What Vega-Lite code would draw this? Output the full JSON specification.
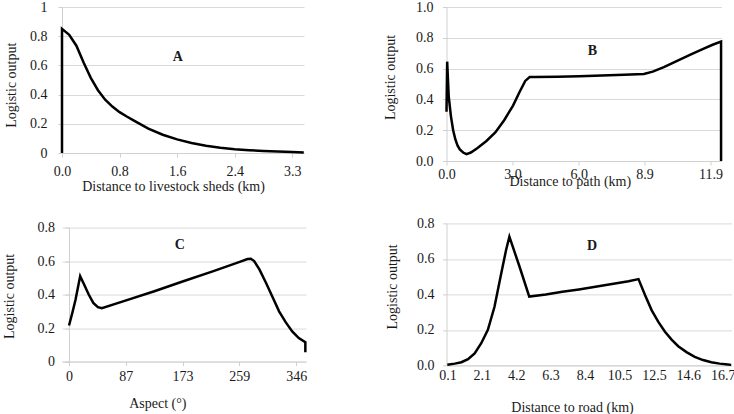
{
  "$schema": "https://vega.github.io/schema/vega-lite/v6.json",
  "padding": {"left": 2, "top": 0, "right": 0, "bottom": 0},
  "background": "white",
  "datasets": {
    "A": [
      {"i":0,"x":0,"y":0},{"i":1,"x":0,"y":0.85},{"i":2,"x":0.1,"y":0.81},{"i":3,"x":0.2,"y":0.735},
      {"i":4,"x":0.3,"y":0.62},{"i":5,"x":0.4,"y":0.515},{"i":6,"x":0.5,"y":0.43},{"i":7,"x":0.6,"y":0.365},
      {"i":8,"x":0.7,"y":0.318},{"i":9,"x":0.8,"y":0.28},{"i":10,"x":0.9,"y":0.25},{"i":11,"x":1.0,"y":0.222},
      {"i":12,"x":1.2,"y":0.167},{"i":13,"x":1.4,"y":0.125},{"i":14,"x":1.6,"y":0.093},{"i":15,"x":1.8,"y":0.068},
      {"i":16,"x":2.0,"y":0.049},{"i":17,"x":2.2,"y":0.036},{"i":18,"x":2.4,"y":0.026},{"i":19,"x":2.6,"y":0.019},
      {"i":20,"x":2.8,"y":0.014},{"i":21,"x":3.0,"y":0.01},{"i":22,"x":3.2,"y":0.007},{"i":23,"x":3.36,"y":0.004}
    ],
    "B": [
      {"i":0,"x":0,"y":0.32},{"i":1,"x":0.03,"y":0.645},{"i":2,"x":0.1,"y":0.42},{"i":3,"x":0.2,"y":0.29},
      {"i":4,"x":0.3,"y":0.2},{"i":5,"x":0.4,"y":0.14},{"i":6,"x":0.5,"y":0.1},{"i":7,"x":0.6,"y":0.075},
      {"i":8,"x":0.75,"y":0.055},{"i":9,"x":0.9,"y":0.045},{"i":10,"x":1.1,"y":0.055},{"i":11,"x":1.4,"y":0.085},
      {"i":12,"x":1.8,"y":0.13},{"i":13,"x":2.2,"y":0.185},{"i":14,"x":2.6,"y":0.265},{"i":15,"x":3.0,"y":0.36},
      {"i":16,"x":3.3,"y":0.45},{"i":17,"x":3.55,"y":0.52},{"i":18,"x":3.75,"y":0.545},{"i":19,"x":4.0,"y":0.545},
      {"i":20,"x":5.0,"y":0.547},{"i":21,"x":6.0,"y":0.55},{"i":22,"x":7.0,"y":0.555},{"i":23,"x":8.0,"y":0.56},
      {"i":24,"x":8.9,"y":0.565},{"i":25,"x":9.3,"y":0.58},{"i":26,"x":9.8,"y":0.61},{"i":27,"x":10.4,"y":0.65},
      {"i":28,"x":11.0,"y":0.69},{"i":29,"x":11.6,"y":0.73},{"i":30,"x":12.0,"y":0.755},{"i":31,"x":12.38,"y":0.775},
      {"i":32,"x":12.38,"y":0}
    ],
    "C": [
      {"i":0,"x":0,"y":0.215},{"i":1,"x":5,"y":0.29},{"i":2,"x":10,"y":0.37},{"i":3,"x":17,"y":0.51},
      {"i":4,"x":23,"y":0.46},{"i":5,"x":30,"y":0.4},{"i":6,"x":37,"y":0.35},{"i":7,"x":44,"y":0.325},
      {"i":8,"x":50,"y":0.318},{"i":9,"x":87,"y":0.365},{"i":10,"x":130,"y":0.42},{"i":11,"x":173,"y":0.478},
      {"i":12,"x":220,"y":0.54},{"i":13,"x":260,"y":0.595},{"i":14,"x":272,"y":0.612},{"i":15,"x":277,"y":0.614},
      {"i":16,"x":282,"y":0.6},{"i":17,"x":290,"y":0.55},{"i":18,"x":300,"y":0.47},{"i":19,"x":310,"y":0.385},
      {"i":20,"x":320,"y":0.3},{"i":21,"x":330,"y":0.235},{"i":22,"x":340,"y":0.18},{"i":23,"x":350,"y":0.14},
      {"i":24,"x":360,"y":0.115},{"i":25,"x":360,"y":0.055}
    ],
    "D": [
      {"i":0,"x":0.05,"y":0.004},{"i":1,"x":0.5,"y":0.01},{"i":2,"x":0.9,"y":0.018},{"i":3,"x":1.3,"y":0.035},
      {"i":4,"x":1.7,"y":0.068},{"i":5,"x":2.1,"y":0.125},{"i":6,"x":2.5,"y":0.2},{"i":7,"x":2.9,"y":0.33},
      {"i":8,"x":3.3,"y":0.515},{"i":9,"x":3.6,"y":0.65},{"i":10,"x":3.8,"y":0.725},{"i":11,"x":4.4,"y":0.56},
      {"i":12,"x":5.0,"y":0.388},{"i":13,"x":6.0,"y":0.4},{"i":14,"x":7.0,"y":0.415},{"i":15,"x":8.0,"y":0.428},
      {"i":16,"x":9.0,"y":0.443},{"i":17,"x":10.0,"y":0.458},{"i":18,"x":11.0,"y":0.474},{"i":19,"x":11.6,"y":0.486},
      {"i":20,"x":12.0,"y":0.395},{"i":21,"x":12.4,"y":0.31},{"i":22,"x":12.8,"y":0.245},{"i":23,"x":13.2,"y":0.19},
      {"i":24,"x":13.6,"y":0.145},{"i":25,"x":14.0,"y":0.108},{"i":26,"x":14.5,"y":0.075},{"i":27,"x":15.0,"y":0.048},
      {"i":28,"x":15.5,"y":0.03},{"i":29,"x":16.0,"y":0.018},{"i":30,"x":16.5,"y":0.01},{"i":31,"x":17.0,"y":0.005},
      {"i":32,"x":17.2,"y":0.003}
    ]
  },
  "columns": 1,
  "align": "none",
  "spacing": 22,
  "concat": [
    {
      "spacing": 73.5,
      "hconcat": [
        {
          "width": 242, "height": 146,
          "layer": [
            {
              "data": {"name": "A"},
              "mark": {"type": "line", "color": "black", "strokeWidth": 2.5},
              "encoding": {
                "x": {"field": "x", "type": "quantitative", "scale": {"domain": [0, 3.363], "nice": false, "zero": false},
                  "axis": {"values": [0, 0.8, 1.6, 2.4, 3.2], "tickCount": 20, "labelExpr": "datum.value > 3 ? '3.3' : format(datum.value, '.1f')", "title": "Distance to livestock sheds (km)", "labelPadding": 7.6, "titleX": 111, "titleY": 26.6}},
                "y": {"field": "y", "type": "quantitative", "scale": {"domain": [0, 1], "nice": false},
                  "axis": {"values": [0, 0.2, 0.4, 0.6, 0.8, 1], "tickCount": 20, "format": ".1~f", "title": "Logistic output", "labelPadding": 11, "titleX": -43.7, "titleY": 77.7}},
                "order": {"field": "i", "type": "quantitative"}
              }
            },
            {
              "data": {"values": [{"x": 1.61, "y": 0.655, "t": "A"}]},
              "mark": {"type": "text", "fontWeight": "bold", "fontSize": 14, "font": "Liberation Serif", "color": "#1a1a1a"},
              "encoding": {"x": {"field": "x", "type": "quantitative"}, "y": {"field": "y", "type": "quantitative"}, "text": {"field": "t"}}
            }
          ]
        },
        {
          "width": 275, "height": 154,
          "layer": [
            {
              "data": {"name": "B"},
              "mark": {"type": "line", "color": "black", "strokeWidth": 2.5},
              "encoding": {
                "x": {"field": "x", "type": "quantitative", "scale": {"domain": [0, 12.4], "nice": false, "zero": false},
                  "axis": {"values": [0, 2.98, 5.96, 8.93, 11.9], "tickCount": 20, "format": ".1f", "title": "Distance to path (km)", "labelPadding": 2.2, "titleX": 123.3, "titleY": 13.2}},
                "y": {"field": "y", "type": "quantitative", "scale": {"domain": [0, 1], "nice": false},
                  "axis": {"values": [0, 0.2, 0.4, 0.6, 0.8, 1], "tickCount": 20, "format": ".1f", "title": "Logistic output", "labelPadding": 9.4, "titleX": -49.2, "titleY": 70}},
                "order": {"field": "i", "type": "quantitative"}
              }
            },
            {
              "data": {"values": [{"x": 6.58, "y": 0.714, "t": "B"}]},
              "mark": {"type": "text", "fontWeight": "bold", "fontSize": 14, "font": "Liberation Serif", "color": "#1a1a1a"},
              "encoding": {"x": {"field": "x", "type": "quantitative"}, "y": {"field": "y", "type": "quantitative"}, "text": {"field": "t"}}
            }
          ]
        }
      ]
    },
    {
      "spacing": 73.5,
      "center": true,
      "hconcat": [
        {
          "width": 244, "height": 134,
          "layer": [
            {
              "data": {"name": "C"},
              "mark": {"type": "line", "color": "black", "strokeWidth": 2.5},
              "encoding": {
                "x": {"field": "x", "type": "quantitative", "scale": {"domain": [-10.68, 361], "nice": false, "zero": false},
                  "axis": {"values": [0, 86.6, 173, 259.4, 346], "tickCount": 20, "format": ".0f", "title": "Aspect (°)", "labelPadding": 4.2, "titleX": 95.3, "titleY": 34.9}},
                "y": {"field": "y", "type": "quantitative", "scale": {"domain": [0, 0.8], "nice": false},
                  "axis": {"values": [0, 0.2, 0.4, 0.6, 0.8], "tickCount": 20, "format": ".1~f", "title": "Logistic output", "offset": -7, "labelPadding": 10.4, "titleX": -52.4, "titleY": 68.3}},
                "order": {"field": "i", "type": "quantitative"}
              }
            },
            {
              "data": {"values": [{"x": 168.7, "y": 0.695, "t": "C"}]},
              "mark": {"type": "text", "fontWeight": "bold", "fontSize": 14, "font": "Liberation Serif", "color": "#1a1a1a"},
              "encoding": {"x": {"field": "x", "type": "quantitative"}, "y": {"field": "y", "type": "quantitative"}, "text": {"field": "t"}}
            }
          ]
        },
        {
          "width": 285, "height": 142,
          "layer": [
            {
              "data": {"name": "D"},
              "mark": {"type": "line", "color": "black", "strokeWidth": 2.5},
              "encoding": {
                "x": {"field": "x", "type": "quantitative", "scale": {"domain": [0, 17.22], "nice": false, "zero": false},
                  "axis": {"values": [0.06, 2.13, 4.21, 6.29, 8.37, 10.46, 12.53, 14.61, 16.69], "tickCount": 20, "format": ".1f", "title": "Distance to road (km)", "tickSize": 0, "labelPadding": 3.5, "titleX": 125.5, "titleY": 35.2}},
                "y": {"field": "y", "type": "quantitative", "scale": {"domain": [0, 0.8], "nice": false},
                  "axis": {"values": [0, 0.2, 0.4, 0.6, 0.8], "tickCount": 20, "format": ".1f", "title": "Logistic output", "labelPadding": 8.5, "titleX": -47.5, "titleY": 63}},
                "order": {"field": "i", "type": "quantitative"}
              }
            },
            {
              "data": {"values": [{"x": 8.8, "y": 0.67, "t": "D"}]},
              "mark": {"type": "text", "fontWeight": "bold", "fontSize": 14, "font": "Liberation Serif", "color": "#1a1a1a"},
              "encoding": {"x": {"field": "x", "type": "quantitative"}, "y": {"field": "y", "type": "quantitative"}, "text": {"field": "t"}}
            }
          ]
        }
      ]
    }
  ],
  "config": {
    "font": "Liberation Serif",
    "view": {"stroke": null},
    "axis": {
      "labelFont": "Liberation Serif", "titleFont": "Liberation Serif",
      "labelFontSize": 14, "titleFontSize": 14, "titleFontWeight": "normal",
      "labelColor": "#1a1a1a", "titleColor": "#1a1a1a",
      "domainColor": "#d0d0d0", "tickColor": "#d0d0d0", "gridColor": "#d9d9d9",
      "tickSize": 4, "labelFlush": false, "labelOverlap": false
    },
    "axisX": {"grid": false, "labelAngle": 0},
    "axisY": {"grid": true}
  }
}
